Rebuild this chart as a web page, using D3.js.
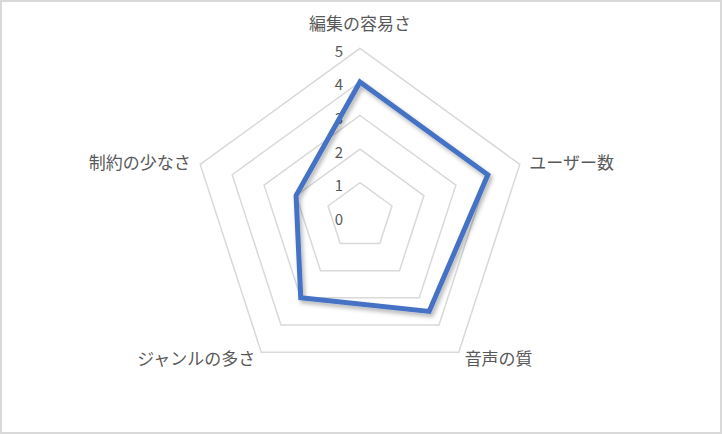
<!DOCTYPE html>
<html>
<head>
<meta charset="utf-8">
<script src="https://cdn.jsdelivr.net/npm/d3@7"></script>
<style>
  html, body { margin: 0; padding: 0; background: #fff; }
  svg { display: block; }
  text { font-family: "Noto Sans CJK JP", "Noto Sans", sans-serif; fill: #595959; }
</style>
</head>
<body>
<svg id="radar"></svg>
<script>
// chart data
const categories = ['編集の容易さ', 'ユーザー数', '音声の質', 'ジャンルの多さ', '制約の少なさ'];
const values = [4, 4, 3.5, 3, 2];
const tickLabels = [0, 1, 2, 3, 4, 5];

// set the dimensions
const width = 722;
const height = 434;
const cx = 360;
const cy = 216.3;
const outerRadius = 168;

const svg = d3.select('#radar')
  .attr('width', width)
  .attr('height', height);

// chart border
svg.append('rect')
  .attr('x', 1).attr('y', 1)
  .attr('width', width - 2).attr('height', height - 2)
  .attr('fill', '#fff')
  .attr('stroke', '#d9d9d9')
  .attr('stroke-width', 2);

// shadow for the series line
const filter = svg.append('defs').append('filter')
  .attr('id', 'shadow')
  .attr('x', '-20%').attr('y', '-20%')
  .attr('width', '140%').attr('height', '140%');
filter.append('feDropShadow')
  .attr('dx', 2).attr('dy', 3)
  .attr('stdDeviation', 2)
  .attr('flood-color', '#000')
  .attr('flood-opacity', 0.3);

// scales
const rScale = d3.scaleLinear()
  .domain([d3.min(tickLabels), d3.max(tickLabels)])
  .range([0, outerRadius]);

const angle = d3.scalePoint()
  .domain(categories)
  .range([0, 2 * Math.PI * (categories.length - 1) / categories.length]);

const g = svg.append('g')
  .attr('transform', `translate(${cx}, ${cy})`);

const radial = d3.lineRadial()
  .angle(d => angle(d.cat))
  .radius(d => rScale(d.v))
  .curve(d3.curveLinearClosed);

// grid pentagons (level 0 is the centre, no ring)
g.selectAll('.grid')
  .data(tickLabels.filter(t => t > 0))
  .enter()
  .append('path')
  .attr('class', 'grid')
  .attr('d', t => radial(categories.map(c => ({cat: c, v: t}))))
  .attr('fill', 'none')
  .attr('stroke', '#d9d9d9')
  .attr('stroke-width', 1.5);

// tick labels along the top axis
g.selectAll('.tick')
  .data(tickLabels)
  .enter()
  .append('text')
  .attr('class', 'tick')
  .attr('x', -17)
  .attr('y', t => -rScale(t) + 2)
  .attr('dominant-baseline', 'central')
  .attr('text-anchor', 'end')
  .style('font-size', '15px')
  .text(t => t);

// series line
g.append('path')
  .datum(categories.map((c, i) => ({cat: c, v: values[i]})))
  .attr('d', radial)
  .attr('fill', 'none')
  .attr('stroke', '#4472c4')
  .attr('stroke-width', 5)
  .attr('stroke-linejoin', 'miter')
  .attr('filter', 'url(#shadow)');

// category labels
g.selectAll('.cat')
  .data(categories)
  .enter()
  .append('text')
  .attr('class', 'cat')
  .attr('x', c => (outerRadius + 10) * Math.sin(angle(c)))
  .attr('y', c => {
    const a = angle(c);
    const off = Math.cos(a) > 0.9 ? 26 : (Math.cos(a) < 0 ? 6 : 10);
    return -(outerRadius + off) * Math.cos(a);
  })
  .attr('dominant-baseline', 'central')
  .attr('text-anchor', c => {
    const s = Math.sin(angle(c));
    return s > 0.1 ? 'start' : (s < -0.1 ? 'end' : 'middle');
  })
  .style('font-size', '17px')
  .text(c => c);
</script>
</body>
</html>
